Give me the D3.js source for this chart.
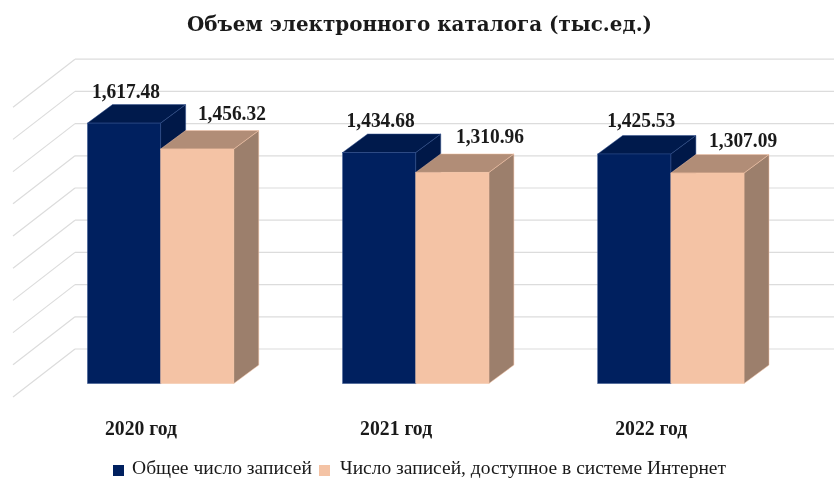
<!DOCTYPE html>
<html>
<head>
<meta charset="utf-8">
<script src="https://cdn.jsdelivr.net/npm/d3@7"></script>
<style>
  html, body { margin: 0; padding: 0; background: #fff; }
  svg { display: block; filter: blur(0.4px); }
  text { font-family: "Liberation Serif", serif; fill: #1a1a1a; }
</style>
</head>
<body>
<svg id="chart" width="834" height="478"></svg>
<script>
const years = ['2020 год', '2021 год', '2022 год'];
const seriesNames = ['Общее число записей', 'Число записей, доступное в системе Интернет'];
const totalRecords = [1617.48, 1434.68, 1425.53];
const onlineRecords = [1456.32, 1310.96, 1307.09];
const gridTicks = [0, 200, 400, 600, 800, 1000, 1200, 1400, 1600, 1800];
const seriesColors = [
    { front: '#00205f', top: '#001a4c', side: '#001848', edge: '#2f4f8c' },
    { front: '#f4c3a5', top: '#b18d77', side: '#9c7f6c', edge: '#f4c3a5' }
];

const svg = d3.select('#chart');

// front plane of the bars
const baseY = 383.5;
const yScale = d3.scaleLinear().domain([0, 1600]).range([baseY, baseY - 257.6]);
const xGroup = d3.scaleBand().domain(years).range([87.5, 744]).paddingInner(0.4266);
const xSeries = d3.scaleBand().domain([0, 1]).range([0, xGroup.bandwidth()]);

// 3d offsets
const barDepth = { x: 25, y: -18.5 };
const wallBack = { x: 75, y: -34.5 };
const wallFront = { x: 13, y: 13.5 };

const grid = svg.append('g');

grid.selectAll('line.back')
    .data(gridTicks)
    .enter()
    .append('line')
    .attr('class', 'back')
    .attr('x1', wallBack.x)
    .attr('x2', 834)
    .attr('y1', d => yScale(d) + wallBack.y)
    .attr('y2', d => yScale(d) + wallBack.y)
    .attr('stroke', '#dcdcdc')
    .attr('stroke-width', 1.2);

grid.selectAll('line.side')
    .data(gridTicks)
    .enter()
    .append('line')
    .attr('class', 'side')
    .attr('x1', wallFront.x)
    .attr('x2', wallBack.x)
    .attr('y1', d => yScale(d) + wallFront.y)
    .attr('y2', d => yScale(d) + wallBack.y)
    .attr('stroke', '#dcdcdc')
    .attr('stroke-width', 1.2);

function drawBar(group, x, width, value, colors) {
    const top = yScale(value);
    const pts = a => a.map(p => p.join(',')).join(' ');
    const dx = barDepth.x;
    const dy = barDepth.y;

    group.append('polygon')
        .attr('points', pts([[x + width, top], [x + width + dx, top + dy], [x + width + dx, baseY + dy], [x + width, baseY]]))
        .attr('fill', colors.side)
        .attr('stroke', colors.edge)
        .attr('stroke-width', 0.5);
    group.append('polygon')
        .attr('points', pts([[x, top], [x + dx, top + dy], [x + width + dx, top + dy], [x + width, top]]))
        .attr('fill', colors.top)
        .attr('stroke', colors.edge)
        .attr('stroke-width', 0.5);
    group.append('rect')
        .attr('x', x)
        .attr('y', top)
        .attr('width', width)
        .attr('height', baseY - top)
        .attr('fill', colors.front)
        .attr('stroke', colors.edge)
        .attr('stroke-width', 0.5);
}

const bars = svg.append('g');
years.forEach((year, i) => {
    const x0 = xGroup(year);
    const group = bars.append('g');
    drawBar(group, x0 + xSeries(0), xSeries.bandwidth(), totalRecords[i], seriesColors[0]);
    drawBar(group, x0 + xSeries(1), xSeries.bandwidth(), onlineRecords[i], seriesColors[1]);
});

// value labels were placed by hand in the original, so each one gets its own nudge
const fmt = d3.format(',.2f');
function addValueLabels(values, series, dxs, dys) {
    svg.append('g')
        .selectAll('text')
        .data(values)
        .enter()
        .append('text')
        .attr('x', (d, i) => xGroup(years[i]) + xSeries(series) + dxs[i])
        .attr('y', (d, i) => yScale(d) + dys[i])
        .attr('text-anchor', 'middle')
        .attr('font-size', 21)
        .attr('font-weight', 700)
        .attr('textLength', 68)
        .attr('lengthAdjust', 'spacingAndGlyphs')
        .text(d => fmt(d));
}
addValueLabels(totalRecords, 0, [38.5, 38, 43.5], [-25, -25.6, -27]);
addValueLabels(onlineRecords, 1, [71.25, 74.25, 72.25], [-29, -29.5, -26]);

svg.append('g')
    .selectAll('text')
    .data(years)
    .enter()
    .append('text')
    .attr('x', d => xGroup(d) + 53.5)
    .attr('y', 435)
    .attr('text-anchor', 'middle')
    .attr('font-size', 20)
    .attr('font-weight', 700)
    .attr('textLength', 72)
    .attr('lengthAdjust', 'spacingAndGlyphs')
    .text(d => d);

svg.append('text')
    .attr('x', 419.5)
    .attr('y', 31)
    .attr('text-anchor', 'middle')
    .style('font-family', '"DejaVu Serif", serif')
    .attr('font-size', 20)
    .attr('font-weight', 700)
    .attr('textLength', 465)
    .attr('lengthAdjust', 'spacingAndGlyphs')
    .text('Объем электронного каталога (тыс.ед.)');

const legendX = [113, 319];
const legendTextX = [132, 340];
const legendTextW = [180, 386];
const legend = svg.append('g');
seriesNames.forEach((name, i) => {
    legend.append('rect')
        .attr('x', legendX[i])
        .attr('y', 465)
        .attr('width', 11)
        .attr('height', 11)
        .attr('fill', seriesColors[i].front);
    legend.append('text')
        .attr('x', legendTextX[i])
        .attr('y', 473.8)
        .attr('font-size', 19)
        .attr('textLength', legendTextW[i])
        .attr('lengthAdjust', 'spacingAndGlyphs')
        .text(name);
});
</script>
</body>
</html>
